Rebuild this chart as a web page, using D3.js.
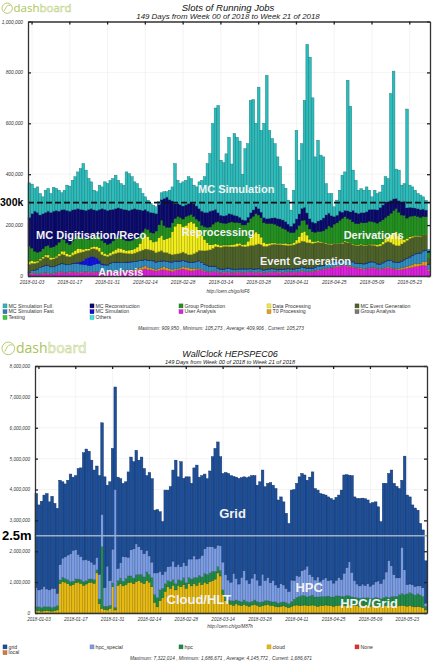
<!DOCTYPE html>
<html>
<head>
<meta charset="utf-8">
<script src="https://cdn.jsdelivr.net/npm/d3@7"></script>
<style>
  body { margin: 0; background: #ffffff; }
  svg { display: block; }
</style>
</head>
<body>
<div id="chart"></div>
<script>
// 149 daily bars, 2018-01-02 .. 2018-05-30
const days = d3.timeDay.range(new Date(2018, 0, 2), new Date(2018, 4, 31)).map(d3.timeFormat("%Y-%m-%d"));
const xTicks = ["2018-01-03", "2018-01-17", "2018-01-31", "2018-02-14", "2018-02-28", "2018-03-14",
  "2018-03-28", "2018-04-11", "2018-04-25", "2018-05-09", "2018-05-23"];

// ---- Slots of Running Jobs (thousands of slots) ----
const userAnalysis = [8,10,9,7,8,10,12,9,8,10,
  12,14,15,13,12,14,16,15,13,14,
  15,16,14,13,15,16,14,12,13,15,
  16,18,17,15,16,18,20,22,21,19,
  22,24,26,28,25,24,22,20,22,24,
  25,22,20,18,22,24,26,28,25,22,
  20,22,24,26,22,18,16,15,17,18,
  14,12,13,15,14,12,13,14,15,12,
  13,15,16,14,13,15,14,12,13,14,
  15,16,14,13,12,14,15,16,14,15,
  16,18,17,15,16,18,20,22,24,26,
  28,30,32,34,36,38,40,42,38,36,
  34,32,30,28,26,28,30,32,30,28,
  26,28,30,32,30,28,26,24,26,28,
  30,32,34,36,38,40,42,40,20];
const t0Processing = [2,3,2,2,3,2,2,3,2,2,
  2,2,3,2,2,3,2,2,2,3,
  2,2,3,2,2,2,3,2,2,2,
  3,2,2,3,2,2,3,4,4,5,
  6,8,10,12,10,8,7,6,8,10,
  12,10,9,8,6,5,6,8,10,12,
  10,8,6,5,4,3,3,2,2,3,
  2,2,3,2,2,3,2,2,2,3,
  2,2,3,2,2,2,3,2,2,2,
  3,2,2,3,2,2,3,2,2,2,
  2,3,2,2,3,2,2,3,2,2,
  3,2,2,3,4,3,2,2,3,4,
  3,2,3,4,3,2,2,3,4,3,
  2,3,4,5,4,3,4,5,6,7,
  8,10,12,14,12,10,14,16,6];
const mcSimFast = [5,8,12,18,22,25,28,30,26,24,
  26,28,30,32,30,28,30,32,34,30,
  28,26,24,26,28,30,32,30,28,26,
  30,32,34,36,34,32,30,28,30,32,
  30,28,26,24,26,28,30,28,26,24,
  22,24,26,28,30,28,26,24,22,20,
  22,24,26,28,26,24,22,20,18,16,
  14,12,10,12,14,12,10,9,10,12,
  12,10,9,10,12,11,10,9,10,11,
  10,9,8,10,12,11,10,9,10,12,
  12,14,13,12,11,10,12,14,13,12,
  14,16,18,20,18,16,14,16,18,20,
  18,16,15,16,18,20,22,20,18,16,
  18,20,22,24,26,24,22,24,26,28,
  30,32,34,36,38,40,42,44,20];
const mcSimulation = [1,1,1,1,1,2,1,1,1,1,
  1,1,2,1,1,1,2,3,5,8,
  15,25,32,35,30,22,12,5,3,2,
  2,2,2,2,2,2,2,2,2,2,
  2,2,2,2,2,2,2,2,2,2,
  2,2,2,2,2,2,2,2,2,2,
  2,2,2,2,2,2,2,2,2,2,
  2,2,2,2,2,2,2,2,2,2,
  2,2,2,2,2,2,2,2,2,2,
  2,2,2,2,2,2,2,2,2,2,
  2,2,2,2,2,2,2,2,2,2,
  2,2,2,2,2,2,2,2,2,2,
  2,2,2,2,2,2,2,2,2,2,
  2,2,2,2,2,2,2,2,2,2,
  2,2,2,2,2,2,2,2,1];
const mcEventGen = [30,28,26,25,28,30,32,30,28,30,
  32,34,36,35,33,30,32,34,36,38,
  35,30,28,30,32,34,36,35,33,32,
  30,32,34,36,38,36,34,32,30,32,
  34,36,38,40,42,40,38,36,38,40,
  32,34,30,28,26,28,30,32,30,28,
  30,32,36,40,46,52,58,64,70,76,
  82,85,88,86,84,86,88,90,92,88,
  86,88,90,92,94,96,94,92,90,92,
  94,96,98,96,94,92,90,92,94,96,
  98,100,102,100,98,96,94,92,90,88,
  80,75,70,68,66,68,70,72,70,68,
  66,68,70,72,70,68,66,64,66,68,
  70,72,74,72,70,68,66,64,66,68,
  70,72,70,68,66,64,62,60,25];
const dataProcessing = [12,10,8,6,5,6,8,10,8,6,
  5,8,12,15,10,8,12,15,18,14,
  10,8,6,8,10,12,14,12,10,8,
  10,12,15,18,16,14,12,14,16,18,
  20,30,45,55,50,40,35,45,55,60,
  50,55,65,90,110,120,115,100,110,125,
  130,120,100,80,60,45,30,20,15,12,
  10,8,6,5,6,8,10,12,8,6,
  10,20,35,45,50,40,30,15,10,8,
  6,5,4,5,6,8,6,5,10,15,
  25,35,40,30,15,8,6,5,4,3,
  3,2,3,2,3,2,3,4,3,2,
  3,2,3,4,3,2,3,4,5,6,
  8,10,15,20,30,45,55,40,20,10,
  8,6,5,4,3,2,2,2,1];
const groupProduction = [60,50,40,35,30,32,35,38,40,42,
  44,46,48,45,42,40,44,48,50,46,
  42,40,38,36,40,44,46,44,42,40,
  38,40,42,44,42,40,38,36,38,40,
  35,30,28,26,28,30,35,40,50,60,
  55,45,40,35,30,28,26,30,35,30,
  28,26,30,35,40,50,60,70,80,85,
  90,88,86,85,88,90,86,82,80,78,
  76,74,72,70,72,74,76,78,80,78,
  76,74,70,65,60,55,50,45,40,42,
  44,46,44,42,40,38,36,38,40,45,
  55,70,65,75,80,90,95,95,92,90,
  87,85,83,85,87,89,91,89,87,85,
  88,86,84,82,85,88,90,92,94,96,
  80,81,79,77,75,73,71,69,20];
const mcReco = [112,135,157,156,143,138,132,134,137,140,
  136,122,114,119,128,131,122,113,107,109,
  113,111,117,115,103,98,105,125,131,133,
  131,124,119,114,115,118,121,120,121,117,
  113,102,83,75,72,78,79,68,79,80,
  107,118,108,86,59,50,49,51,46,46,
  48,51,51,49,55,56,59,62,54,50,
  35,30,28,32,35,30,28,25,22,20,
  18,20,22,25,28,25,22,20,18,20,
  22,25,28,30,32,30,28,25,35,40,
  45,48,50,45,40,38,36,40,45,50,
  55,50,45,30,30,36,25,25,30,30,
  45,42,40,38,40,42,45,48,50,52,
  55,58,60,55,50,45,40,45,50,55,
  40,35,32,30,30,30,28,26,6];
const mcSimFull = [136,116,89,100,84,66,87,89,74,93,
  86,82,67,75,99,98,116,128,144,160,
  182,158,121,105,77,73,95,85,108,105,
  116,121,131,108,98,95,149,144,128,105,
  101,84,66,49,43,35,30,27,12,27,
  26,21,37,55,157,91,83,95,96,105,
  93,72,75,105,121,140,192,226,341,398,
  421,216,209,241,300,197,321,309,299,179,
  281,289,441,433,327,477,321,370,563,345,
  312,291,242,206,140,131,94,63,130,348,
  211,254,420,662,635,488,260,317,255,240,
  123,77,87,38,59,82,145,151,513,415,
  158,127,91,94,88,97,76,49,75,64,
  61,78,99,91,420,502,115,120,67,69,
  388,87,82,70,60,57,48,39,6];

// ---- WallClock HEPSPEC06 (millions) ----
const cloud = [0.08,0.07,0.06,0.07,0.08,0.07,0.06,0.08,0.10,0.95,
  1.02,1.00,0.95,0.90,0.92,0.98,1.00,0.96,0.90,0.94,
  0.98,1.00,0.96,1.30,0.30,0.15,0.12,0.10,0.15,0.85,
  0.10,0.90,0.95,0.88,0.92,0.98,1.00,0.95,1.02,1.05,
  1.00,0.95,1.05,1.00,0.85,0.35,0.20,0.40,0.50,0.70,
  0.85,0.80,0.90,0.75,0.90,0.85,0.92,0.80,0.95,0.88,
  0.95,0.90,1.00,0.92,1.00,0.95,1.02,1.05,1.10,1.30,
  1.20,0.60,0.40,0.30,0.28,0.25,0.30,0.26,0.24,0.28,
  0.25,0.22,0.26,0.28,0.25,0.22,0.24,0.26,0.28,0.25,
  0.24,0.22,0.20,0.22,0.24,0.20,0.18,0.22,0.25,0.26,
  0.24,0.25,0.26,0.24,0.25,0.26,0.24,0.22,0.25,0.24,
  0.26,0.25,0.24,0.22,0.24,0.25,0.26,0.24,0.25,0.26,
  0.24,0.25,0.24,0.22,0.24,0.25,0.24,0.22,0.24,0.25,
  0.24,0.22,0.24,0.25,0.24,0.25,0.24,0.22,0.24,0.25,
  0.24,0.22,0.24,0.22,0.20,0.22,0.20,0.18,0.10];
const hpc = [0.12,0.13,0.12,0.14,0.12,0.13,0.12,0.12,0.14,0.12,
  0.14,0.12,0.13,0.12,0.11,0.12,0.10,0.12,0.12,0.11,
  0.12,0.10,0.12,0.10,0.15,2.00,0.10,0.12,0.10,0.12,
  0.08,0.15,0.18,0.15,0.20,0.22,0.20,0.18,0.22,0.20,
  0.25,0.22,0.28,0.25,0.30,0.25,0.30,0.35,0.30,0.25,
  0.20,0.22,0.18,0.20,0.18,0.20,0.22,0.18,0.20,0.22,
  0.20,0.25,0.22,0.25,0.28,0.30,0.28,0.30,0.25,0.20,
  0.18,0.15,0.15,0.12,0.12,0.14,0.12,0.13,0.12,0.14,
  0.12,0.13,0.12,0.14,0.12,0.13,0.12,0.14,0.12,0.13,
  0.12,0.14,0.12,0.13,0.12,0.14,0.12,0.15,0.20,0.25,
  0.30,0.32,0.30,0.28,0.30,0.32,0.28,0.30,0.28,0.30,
  0.28,0.30,0.28,0.30,0.32,0.30,0.28,0.30,0.32,0.30,
  0.28,0.26,0.25,0.26,0.25,0.24,0.26,0.25,0.24,0.26,
  0.25,0.24,0.26,0.28,0.26,0.28,0.30,0.32,0.35,0.38,
  0.36,0.40,0.42,0.40,0.38,0.40,0.38,0.36,0.12];
const hpcSpecial = [0.62,0.55,0.60,0.65,0.58,0.55,0.62,0.60,0.40,0.50,
  0.62,0.70,0.80,0.90,1.00,0.95,0.80,0.75,0.70,0.68,
  0.60,0.55,0.50,0.40,0.80,1.05,0.60,1.30,0.80,1.10,
  3.82,0.40,0.50,0.80,0.70,0.60,0.85,0.95,1.00,0.90,
  0.80,0.75,0.70,0.60,0.50,0.70,0.80,0.60,0.45,0.40,
  0.45,0.50,0.60,0.55,0.50,0.45,0.50,0.55,0.60,0.65,
  0.70,0.60,0.55,0.70,0.80,0.90,0.85,0.80,0.75,0.70,
  0.80,0.90,0.70,0.65,0.60,0.90,0.70,0.55,0.80,0.95,
  0.70,0.60,0.75,0.85,0.70,0.55,0.90,0.65,0.75,0.60,
  0.70,0.55,0.50,0.60,0.55,0.45,0.40,0.70,0.60,0.70,
  0.65,0.80,0.85,1.00,0.70,0.60,0.55,0.65,0.50,0.55,
  0.60,0.50,0.55,0.45,0.50,0.60,0.55,0.75,0.90,1.10,
  0.80,0.55,0.45,0.40,0.45,0.40,0.45,0.40,0.45,0.50,
  0.55,0.50,0.60,0.80,1.20,1.00,0.70,0.60,0.55,1.50,
  0.80,0.30,0.28,0.30,0.28,0.26,0.30,0.28,0.10];
const grid = [3.05,2.75,2.84,2.96,3.09,2.85,2.98,2.75,2.75,2.73,
  2.47,2.36,2.42,2.58,2.37,2.40,2.78,2.87,3.47,3.58,
  3.54,3.30,3.05,2.96,3.20,2.96,3.59,2.62,3.20,3.26,
  3.32,2.95,2.72,2.37,2.43,2.77,3.00,2.82,3.03,2.80,
  3.00,2.76,2.42,2.70,2.70,2.03,2.05,1.93,1.71,2.63,
  2.48,2.57,2.95,3.45,2.83,3.40,2.72,2.88,2.66,2.45,
  2.85,3.04,2.63,2.58,2.42,2.20,2.45,2.91,3.23,3.34,
  2.88,2.87,3.30,3.45,3.45,3.13,3.28,3.42,3.22,3.04,
  3.31,3.46,3.32,3.18,3.07,3.35,3.37,3.04,3.05,3.24,
  3.08,3.12,2.84,2.81,2.69,2.44,2.20,2.91,2.95,2.99,
  3.22,3.15,3.06,2.78,3.15,3.39,2.96,2.81,2.84,2.76,
  2.68,2.71,2.64,2.69,2.69,2.67,2.89,3.18,3.01,2.80,
  3.13,2.70,2.77,2.83,2.78,2.81,2.71,2.68,2.65,2.59,
  2.40,2.00,3.10,2.87,2.82,3.10,2.96,2.96,2.89,2.17,
  3.68,2.90,2.82,2.58,2.54,2.45,2.02,1.87,1.37];

const W = 438, H = 672;
const FONT = "'Liberation Sans', Arial, sans-serif";

const svg = d3.select("#chart").append("svg")
  .attr("width", W).attr("height", H)
  .style("font-family", FONT);

function logo(x, y, size) {
  const g = svg.append("g").attr("transform", `translate(${x},${y})`);
  g.append("circle").attr("cx", size * 0.45).attr("cy", -size * 0.33).attr("r", size * 0.45)
    .attr("fill", "none").attr("stroke", "#b8cc70").attr("stroke-width", 1);
  g.append("path")
    .attr("d", `M${size * 0.2},${-size * 0.1} Q${size * 0.45},${-size * 0.75} ${size * 0.75},${-size * 0.55}`)
    .attr("fill", "none").attr("stroke", "#b8cc70").attr("stroke-width", 1);
  const t = g.append("text").attr("x", size * 1.0).attr("y", 0)
    .style("font-size", size + "px").style("font-family", "'Open Sans', sans-serif");
  t.append("tspan").attr("fill", "#aac35a").text("dash");
  t.append("tspan").attr("fill", "none").attr("stroke", "#c6d690").attr("stroke-width", 0.6).text("board");
}

function panel(cfg) {
  const rows = days.map((day, i) => {
    const r = {day};
    cfg.series.forEach(s => r[s.key] = s.values[i]);
    return r;
  });
  const x = d3.scaleBand().domain(days).range([cfg.left, cfg.right]).padding(0);
  const y = d3.scaleLinear().domain([0, cfg.max]).range([cfg.bottom, cfg.top]);
  const g = svg.append("g");

  // title + subtitle
  g.append("text").attr("x", cfg.titleX).attr("y", cfg.titleY)
    .attr("text-anchor", "middle").style("font-style", "italic")
    .style("font-size", cfg.titleSize + "px").attr("fill", "#111").text(cfg.title);
  g.append("text").attr("x", cfg.titleX).attr("y", cfg.subY)
    .attr("text-anchor", "middle").style("font-style", "italic")
    .style("font-size", cfg.subSize + "px").attr("fill", "#222")
    .text("149 Days from Week 00 of 2018 to Week 21 of 2018");

  // light grid
  g.append("g").selectAll("line").data(y.ticks(cfg.nTicks).slice(1)).join("line")
    .attr("x1", cfg.left).attr("x2", cfg.right)
    .attr("y1", d => y(d)).attr("y2", d => y(d))
    .attr("stroke", "#ececec").attr("stroke-width", 0.6);
  g.append("g").selectAll("line").data(xTicks).join("line")
    .attr("x1", d => x(d) + x.bandwidth() / 2).attr("x2", d => x(d) + x.bandwidth() / 2)
    .attr("y1", cfg.top).attr("y2", cfg.bottom)
    .attr("stroke", "#ececec").attr("stroke-width", 0.6);

  // stacked bars
  const stacked = d3.stack().keys(cfg.series.map(s => s.key))(rows);
  const colorOf = Object.fromEntries(cfg.series.map(s => [s.key, s.color]));
  g.append("g").selectAll("g").data(stacked).join("g")
    .attr("fill", d => colorOf[d.key])
    .attr("stroke", d => d3.color(colorOf[d.key]).darker(1.2))
    .attr("stroke-width", 0.45)
    .selectAll("rect").data(d => d).join("rect")
    .attr("x", d => x(d.data.day))
    .attr("width", x.bandwidth())
    .attr("y", d => y(d[1]))
    .attr("height", d => Math.max(0, y(d[0]) - y(d[1])));

  // reference line
  g.append("line")
    .attr("x1", cfg.left).attr("x2", cfg.right)
    .attr("y1", y(cfg.refValue)).attr("y2", y(cfg.refValue))
    .attr("stroke", cfg.refColor).attr("stroke-width", cfg.refWidth)
    .attr("stroke-dasharray", cfg.refDash);
  g.append("text").attr("x", cfg.refLabelX).attr("y", y(cfg.refValue) + cfg.refLabelSize * 0.36)
    .style("font-size", cfg.refLabelSize + "px").style("font-weight", "bold")
    .attr("fill", "#000").text(cfg.refLabel);

  // annotations inside the plot
  g.append("g").selectAll("text").data(cfg.notes).join("text")
    .attr("x", d => x(days[d.day]))
    .attr("y", d => y(d.value))
    .style("font-size", cfg.noteSize + "px").style("font-weight", "bold")
    .attr("fill", "#f2f2f2").text(d => d.text);

  // axes
  const tickFmt = v => d3.format(",")(Math.round(v * cfg.unit));
  const styleAxis = sel => {
    sel.select(".domain").attr("stroke", "#333").attr("stroke-width", 1.3);
    sel.selectAll(".tick line").attr("stroke", "#222").attr("stroke-width", 1.3);
    sel.selectAll("text").style("font-style", "italic").style("font-size", cfg.tickSize + "px")
      .attr("fill", "#333");
  };
  g.append("g").attr("transform", `translate(${cfg.left},0)`)
    .call(d3.axisLeft(y).ticks(cfg.nTicks).tickFormat(tickFmt).tickSize(-3).tickSizeOuter(0).tickPadding(5))
    .call(styleAxis);
  g.append("g").attr("transform", `translate(${cfg.right},0)`)
    .call(d3.axisRight(y).ticks(cfg.nTicks).tickFormat("").tickSize(-3).tickSizeOuter(0))
    .call(styleAxis);
  g.append("g").attr("transform", `translate(0,${cfg.top})`)
    .call(d3.axisTop(x).tickValues(xTicks).tickFormat("").tickSize(-3).tickSizeOuter(0))
    .call(styleAxis);
  g.append("g").attr("transform", `translate(0,${cfg.bottom})`)
    .call(d3.axisBottom(x).tickValues(xTicks).tickSize(0).tickSizeOuter(0).tickPadding(5))
    .call(styleAxis);

  // url
  g.append("text").attr("x", cfg.titleX).attr("y", cfg.urlY).attr("text-anchor", "middle")
    .style("font-size", "4.6px").style("font-style", "italic").attr("fill", "#333").text(cfg.url);

  // legend
  const cols = [3, 90, 179, 267, 355];
  const leg = g.append("g").selectAll("g").data(cfg.legend).join("g")
    .attr("transform", (d, i) => `translate(${cols[i % 5]},${cfg.legendY + Math.floor(i / 5) * 5.8})`);
  leg.append("rect").attr("x", 0).attr("y", -3.6).attr("width", 4).attr("height", 4)
    .attr("fill", d => d.color).attr("stroke", d => d3.color(d.color).darker(0.8)).attr("stroke-width", 0.4);
  leg.append("text").attr("x", 5.5).attr("y", 0)
    .style("font-size", "5.2px").attr("fill", "#333").text(d => d.name);

  // stats
  g.append("text").attr("x", 221).attr("y", cfg.statsY).attr("text-anchor", "middle")
    .style("font-size", "4.8px").style("font-style", "italic").attr("fill", "#333").text(cfg.stats);
}

logo(2, 12, 11.5);
panel({
  left: 28, right: 430, top: 21.5, bottom: 276,
  max: 1000, unit: 1000, nTicks: 5, tickSize: 4.8,
  title: "Slots of Running Jobs", titleX: 228, titleY: 11, titleSize: 9.5, subY: 18.5, subSize: 7.9,
  series: [
    {key: "User Analysis", values: userAnalysis, color: "#e01ee0"},
    {key: "T0 Processing", values: t0Processing, color: "#e89a1c"},
    {key: "MC Simulation Fast", values: mcSimFast, color: "#2f8fc4"},
    {key: "MC Simulation", values: mcSimulation, color: "#1010e6"},
    {key: "MC Event Generation", values: mcEventGen, color: "#4e6328"},
    {key: "Data Processing", values: dataProcessing, color: "#f2ee1a"},
    {key: "Group Production", values: groupProduction, color: "#22921e"},
    {key: "MC Reconstruction", values: mcReco, color: "#0a0a6e"},
    {key: "MC Simulation Full", values: mcSimFull, color: "#2cbcbc"}
  ],
  refValue: 288, refColor: "#111", refWidth: 1.8, refDash: "6,3",
  refLabel: "300k", refLabelX: 0, refLabelSize: 10.5,
  noteSize: 11,
  notes: [
    {text: "MC Simulation", day: 63, value: 325},
    {text: "MC Digitisation/Reco", day: 3, value: 145},
    {text: "Reprocessing", day: 57, value: 157},
    {text: "Analysis", day: 26, value: 1},
    {text: "Event Generation", day: 86, value: 43},
    {text: "Derivations", day: 117, value: 145}
  ],
  url: "http://cern.ch/go/ktF6", urlY: 292.5,
  legendY: 307.5,
  legend: [
    {name: "MC Simulation Full", color: "#33b3b3"},
    {name: "MC Reconstruction", color: "#0a0a6e"},
    {name: "Group Production", color: "#22921e"},
    {name: "Data Processing", color: "#f0e84a"},
    {name: "MC Event Generation", color: "#4e6328"},
    {name: "MC Simulation Fast", color: "#2f7fb0"},
    {name: "MC Simulation", color: "#1010c8"},
    {name: "User Analysis", color: "#d826d8"},
    {name: "T0 Processing", color: "#e0a020"},
    {name: "Group Analysis", color: "#7a7a7a"},
    {name: "Testing", color: "#3cc83c"},
    {name: "Others", color: "#40dede"}
  ],
  statsY: 329.5,
  stats: "Maximum: 909,950 , Minimum: 105,273 , Average: 409,906 , Current: 105,273"
});

logo(2, 353, 14);
panel({
  left: 35, right: 427, top: 366, bottom: 613,
  max: 8, unit: 1e6, nTicks: 8, tickSize: 4.6,
  title: "WallClock HEPSPEC06", titleX: 230, titleY: 356.5, titleSize: 9, subY: 363.5, subSize: 5.6,
  series: [
    {key: "cloud", values: cloud, color: "#e8bb12"},
    {key: "hpc", values: hpc, color: "#1f8c4a"},
    {key: "hpc_special", values: hpcSpecial, color: "#7b9de6"},
    {key: "grid", values: grid, color: "#1d4f9a"}
  ],
  refValue: 2.5, refColor: "#9fb0c4", refWidth: 1.6, refDash: null,
  refLabel: "2.5m", refLabelX: 2, refLabelSize: 13,
  noteSize: 13,
  notes: [
    {text: "Grid", day: 70, value: 3.07},
    {text: "Cloud/HLT", day: 50, value: 0.29},
    {text: "HPC", day: 99, value: 0.68},
    {text: "HPC/Grid", day: 116, value: 0.16}
  ],
  url: "http://cern.ch/go/M87h", urlY: 627.5,
  legendY: 648.5,
  legend: [
    {name: "grid", color: "#1d4f9a"},
    {name: "hpc_special", color: "#7b9de6"},
    {name: "hpc", color: "#1f8c4a"},
    {name: "cloud", color: "#e8bb12"},
    {name: "None", color: "#e03434"},
    {name: "local", color: "#d37a40"}
  ],
  statsY: 659.5,
  stats: "Maximum: 7,322,014 , Minimum: 1,686,671 , Average: 4,145,772 , Current: 1,686,671"
});
</script>
</body>
</html>
